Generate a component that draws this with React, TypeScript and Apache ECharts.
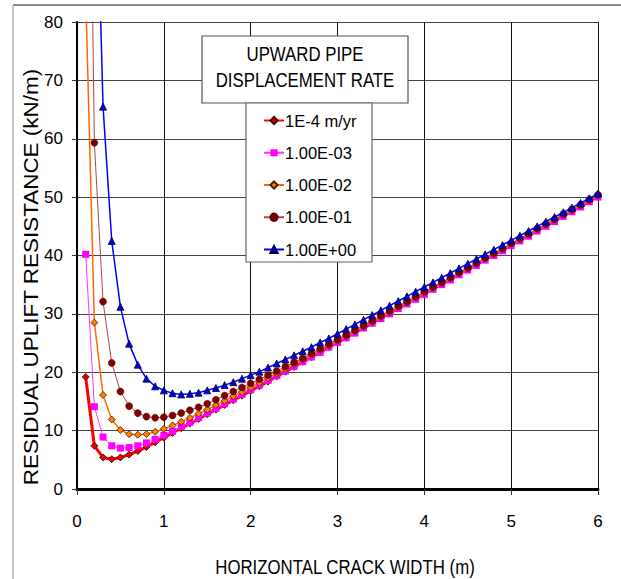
import React, { useEffect, useRef } from "react";
import * as echarts from "echarts";

const crackWidth = [
  0.1, 0.2, 0.3, 0.4, 0.5, 0.6, 0.7, 0.8, 0.9, 1.0,
  1.1, 1.2, 1.3, 1.4, 1.5, 1.6, 1.7, 1.8, 1.9, 2.0,
  2.1, 2.2, 2.3, 2.4, 2.5, 2.6, 2.7, 2.8, 2.9, 3.0,
  3.1, 3.2, 3.3, 3.4, 3.5, 3.6, 3.7, 3.8, 3.9, 4.0,
  4.1, 4.2, 4.3, 4.4, 4.5, 4.6, 4.7, 4.8, 4.9, 5.0,
  5.1, 5.2, 5.3, 5.4, 5.5, 5.6, 5.7, 5.8, 5.9, 6.0,
];

const rate1e4 = [
  19.2, 7.4, 5.4, 5.1, 5.4, 5.9, 6.5, 7.2, 8.0, 8.8,
  9.6, 10.4, 11.2, 12.0, 12.8, 13.6, 14.4, 15.2, 16.0, 16.8,
  17.6, 18.4, 19.3, 20.1, 20.9, 21.8, 22.6, 23.4, 24.3, 25.1,
  25.9, 26.8, 27.6, 28.4, 29.3, 30.1, 30.9, 31.8, 32.6, 33.4,
  34.3, 35.1, 35.9, 36.8, 37.6, 38.4, 39.3, 40.1, 40.9, 41.8,
  42.6, 43.4, 44.3, 45.1, 45.9, 46.8, 47.6, 48.4, 49.3, 50.1,
];

const rate1e3 = [
  40.2, 14.1, 8.9, 7.4, 7.0, 7.1, 7.4, 7.9, 8.5, 9.2,
  9.9, 10.7, 11.4, 12.2, 13.0, 13.8, 14.6, 15.4, 16.2, 17.0,
  17.8, 18.6, 19.4, 20.2, 21.0, 21.8, 22.6, 23.4, 24.3, 25.1,
  25.9, 26.7, 27.6, 28.4, 29.2, 30.0, 30.9, 31.7, 32.5, 33.3,
  34.2, 35.0, 35.8, 36.7, 37.5, 38.3, 39.2, 40.0, 40.8, 41.7,
  42.5, 43.3, 44.2, 45.0, 45.8, 46.7, 47.5, 48.3, 49.2, 50.0,
];

const rate1e2 = [
  85, 28.5, 16.1, 11.9, 10.1, 9.4, 9.3, 9.4, 9.8, 10.3,
  10.9, 11.5, 12.2, 12.9, 13.6, 14.4, 15.1, 15.9, 16.6, 17.4,
  18.2, 19.0, 19.8, 20.6, 21.4, 22.2, 23.0, 23.8, 24.6, 25.4,
  26.2, 27.0, 27.9, 28.7, 29.5, 30.3, 31.2, 32.0, 32.8, 33.6,
  34.5, 35.3, 36.1, 37.0, 37.8, 38.6, 39.5, 40.3, 41.1, 42.0,
  42.8, 43.6, 44.5, 45.3, 46.1, 47.0, 47.8, 48.6, 49.5, 50.3,
];

const rate1e1 = [
  170, 59.3, 32.1, 21.6, 16.7, 14.2, 13.0, 12.4, 12.2, 12.3,
  12.6, 13.0, 13.5, 14.0, 14.6, 15.3, 16.0, 16.7, 17.4, 18.1,
  18.8, 19.5, 20.2, 21.0, 21.7, 22.4, 23.2, 24.0, 24.8, 25.6,
  26.4, 27.2, 28.0, 28.8, 29.7, 30.5, 31.3, 32.1, 32.9, 33.8,
  34.6, 35.4, 36.2, 37.1, 37.9, 38.7, 39.6, 40.4, 41.2, 42.1,
  42.9, 43.7, 44.6, 45.4, 46.2, 47.1, 47.9, 48.7, 49.6, 50.4,
];

const rate1e0 = [
  250, 120, 65.5, 42.5, 31.2, 24.9, 21.3, 18.9, 17.6, 16.9,
  16.4, 16.2, 16.3, 16.5, 16.9, 17.3, 17.8, 18.3, 18.9, 19.5,
  20.1, 20.8, 21.5, 22.2, 22.9, 23.6, 24.3, 25.1, 25.8, 26.6,
  27.4, 28.2, 29.0, 29.8, 30.6, 31.4, 32.2, 33.0, 33.8, 34.6,
  35.4, 36.2, 37.0, 37.8, 38.6, 39.4, 40.2, 41.0, 41.8, 42.6,
  43.4, 44.2, 45.0, 45.8, 46.6, 47.4, 48.2, 49.0, 49.8, 50.6,
];

const seriesNames = ["1E-4 m/yr", "1.00E-03", "1.00E-02", "1.00E-01", "1.00E+00"];
const legendTitle = ["UPWARD PIPE", "DISPLACEMENT RATE"];
const xTitle = "HORIZONTAL CRACK WIDTH (m)";
const yTitle = "RESIDUAL UPLIFT RESISTANCE (kN/m)";

const FONT = "'Liberation Sans', Arial, sans-serif";

function pairs(ys: number[]) {
  return crackWidth.map((x, i) => [x, ys[i]]);
}

export default function App() {
  const ref = useRef<HTMLDivElement>(null);

  useEffect(() => {
    if (!ref.current) return;
    const chart = echarts.init(ref.current, undefined, { renderer: "svg" });

    const styles = [
      { data: rate1e4, line: "#FF0000", width: 3, symbol: "diamond", size: 7, fill: "#E00000", border: "#400000", bw: 0.8 },
      { data: rate1e3, line: "#FF33FF", width: 1, symbol: "rect", size: 7, fill: "#FF00FF", border: "#FF00FF", bw: 0 },
      { data: rate1e2, line: "#FF6600", width: 1.5, symbol: "diamond", size: 7, fill: "#FF8000", border: "#402000", bw: 0.8 },
      { data: rate1e1, line: "#A84848", width: 1, symbol: "circle", size: 7, fill: "#800000", border: "#600000", bw: 0.5 },
      { data: rate1e0, line: "#0000FF", width: 1.5, symbol: "triangle", size: 7, fill: "#0000DD", border: "#000040", bw: 0.8 },
    ];

    const option: any = {
      animation: false,
      backgroundColor: "#fff",
      grid: { left: 77, top: 22, right: 23, bottom: 90, containLabel: false },
      xAxis: {
        type: "value",
        min: 0,
        max: 6,
        interval: 1,
        axisLine: { show: true, onZero: false, lineStyle: { color: "#000", width: 3 } },
        axisTick: { show: true, inside: false, length: 6, lineStyle: { color: "#333", width: 1 } },
        axisLabel: { fontSize: 17, fontFamily: FONT, color: "#000", margin: 24 },
        splitLine: { show: true, lineStyle: { color: "#111", width: 1 } },
      },
      yAxis: {
        type: "value",
        min: 0,
        max: 80,
        interval: 10,
        axisLine: { show: true, lineStyle: { color: "#000", width: 2 } },
        axisTick: { show: true, inside: false, length: 5, lineStyle: { color: "#333", width: 1 } },
        axisLabel: { fontSize: 17, fontFamily: FONT, color: "#000", margin: 14 },
        splitLine: { show: true, lineStyle: { color: "#444", width: 1 } },
      },
      legend: {
        orient: "vertical",
        left: 258,
        top: 107,
        itemWidth: 20,
        itemHeight: 9,
        itemGap: 15.25,
        z: 10,
        textStyle: { fontSize: 16.5, fontFamily: FONT, color: "#000", padding: [0, 0, 0, -4] },
        data: seriesNames,
      },
      series: styles.map((s, i) => ({
        name: seriesNames[i],
        type: "line",
        data: pairs(s.data),
        symbol: s.symbol,
        symbolSize: s.size,
        showSymbol: true,
        clip: true,
        lineStyle: { color: s.line, width: s.width },
        itemStyle: { color: s.fill, borderColor: s.border, borderWidth: s.bw },
        emphasis: { disabled: true },
        z: 2 + i * 0.1,
      })),
      graphic: {
        elements: [
          { type: "line", shape: { x1: 13, y1: 5, x2: 621, y2: 5 }, style: { stroke: "#666", lineWidth: 1.5 }, z: 1 },
          { type: "line", shape: { x1: 13, y1: 5, x2: 13, y2: 579 }, style: { stroke: "#888", lineWidth: 1 }, z: 1 },
          { type: "rect", shape: { x: 202, y: 36, width: 206, height: 67 }, style: { fill: "#fff", stroke: "#555", lineWidth: 1.2 }, z: 5 },
          { type: "rect", shape: { x: 246, y: 103, width: 126, height: 159 }, style: { fill: "#fff", stroke: "#666", lineWidth: 1.2 }, z: 5 },
          { type: "text", x: 305, y: 54, scaleX: 0.82, z: 6, style: { text: legendTitle[0], fontSize: 20.5, fontFamily: FONT, fill: "#000", textAlign: "center", textVerticalAlign: "middle" } },
          { type: "text", x: 305, y: 80, scaleX: 0.82, z: 6, style: { text: legendTitle[1], fontSize: 20.5, fontFamily: FONT, fill: "#000", textAlign: "center", textVerticalAlign: "middle" } },
          { type: "text", x: 345, y: 567, scaleX: 0.82, z: 6, style: { text: xTitle, fontSize: 20.5, fontFamily: FONT, fill: "#000", textAlign: "center", textVerticalAlign: "middle" } },
          { type: "text", x: 31, y: 277, rotation: Math.PI / 2, scaleX: 1.07, z: 6, style: { text: yTitle, fontSize: 21, fontFamily: FONT, fill: "#000", textAlign: "center", textVerticalAlign: "middle" } },
        ],
      },
    };

    chart.setOption(option);
    return () => chart.dispose();
  }, []);

  return (
    <div
      ref={ref}
      style={{ position: "fixed", left: 0, top: 0, width: 621, height: 579, background: "#fff" }}
    />
  );
}
